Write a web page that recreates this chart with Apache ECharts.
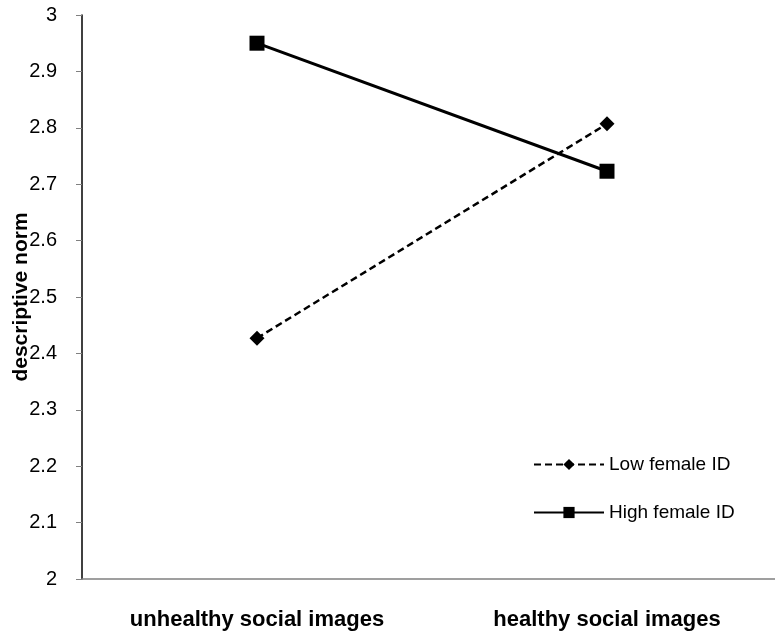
<!DOCTYPE html>
<html>
<head>
<meta charset="utf-8">
<script src="https://cdn.jsdelivr.net/npm/echarts@6/dist/echarts.min.js"></script>
<style>
  html, body { margin: 0; padding: 0; background: #fff; }
  #chart { width: 775px; height: 636px; }
</style>
</head>
<body>
<div id="chart"></div>
<script>
var categories = ["unhealthy social images", "healthy social images"];
var lowFemaleID = [2.427, 2.807];
var highFemaleID = [2.950, 2.723];
var seriesNames = ["Low female ID", "High female ID"];

var chart = echarts.init(document.getElementById("chart"));

var option = {
  animation: false,
  textStyle: { fontFamily: "Liberation Sans, Arial, sans-serif" },
  grid: {
    left: 82,
    top: 15,
    width: 700,
    height: 564,
    containLabel: false,
    outerBoundsMode: "none",
  },
  legend: {
    orient: "vertical",
    left: 528,
    top: 450,
    itemWidth: 70,
    itemHeight: 14,
    itemGap: 29,
    textStyle: { fontSize: 19, color: "#000" },
    data: seriesNames,
  },
  xAxis: {
    type: "category",
    data: categories,
    boundaryGap: true,
    axisLine: { lineStyle: { color: "#808080", width: 1.5 } },
    axisTick: { length: 7, lineStyle: { color: "#000" } },
    axisLabel: {
      margin: 30,
      fontSize: 22,
      fontWeight: "bold",
      color: "#000",
    },
  },
  yAxis: {
    type: "value",
    min: 2,
    max: 3,
    interval: 0.1,
    name: "descriptive norm",
    nameLocation: "middle",
    nameGap: 50,
    nameMoveOverlap: false,
    nameTextStyle: { fontSize: 21, fontWeight: "bold", color: "#000" },
    axisLine: { show: true, lineStyle: { color: "#000", width: 1.5 } },
    axisTick: { show: true, length: 6, lineStyle: { color: "#808080" } },
    splitLine: { show: false },
    axisLabel: {
      margin: 25,
      fontSize: 20,
      color: "#000",
      formatter: function (v) {
        return String(Math.round(v * 10) / 10);
      },
    },
  },
  series: [
    {
      name: seriesNames[0],
      type: "line",
      data: lowFemaleID,
      symbol: "diamond",
      symbolSize: 15,
      itemStyle: { color: "#000" },
      lineStyle: { color: "#000", width: 2.5, type: [7, 4] },
    },
    {
      name: seriesNames[1],
      type: "line",
      data: highFemaleID,
      symbol: "rect",
      symbolSize: 15,
      itemStyle: { color: "#000" },
      lineStyle: { color: "#000", width: 3 },
    },
  ],
};

chart.setOption(option);
</script>
</body>
</html>
